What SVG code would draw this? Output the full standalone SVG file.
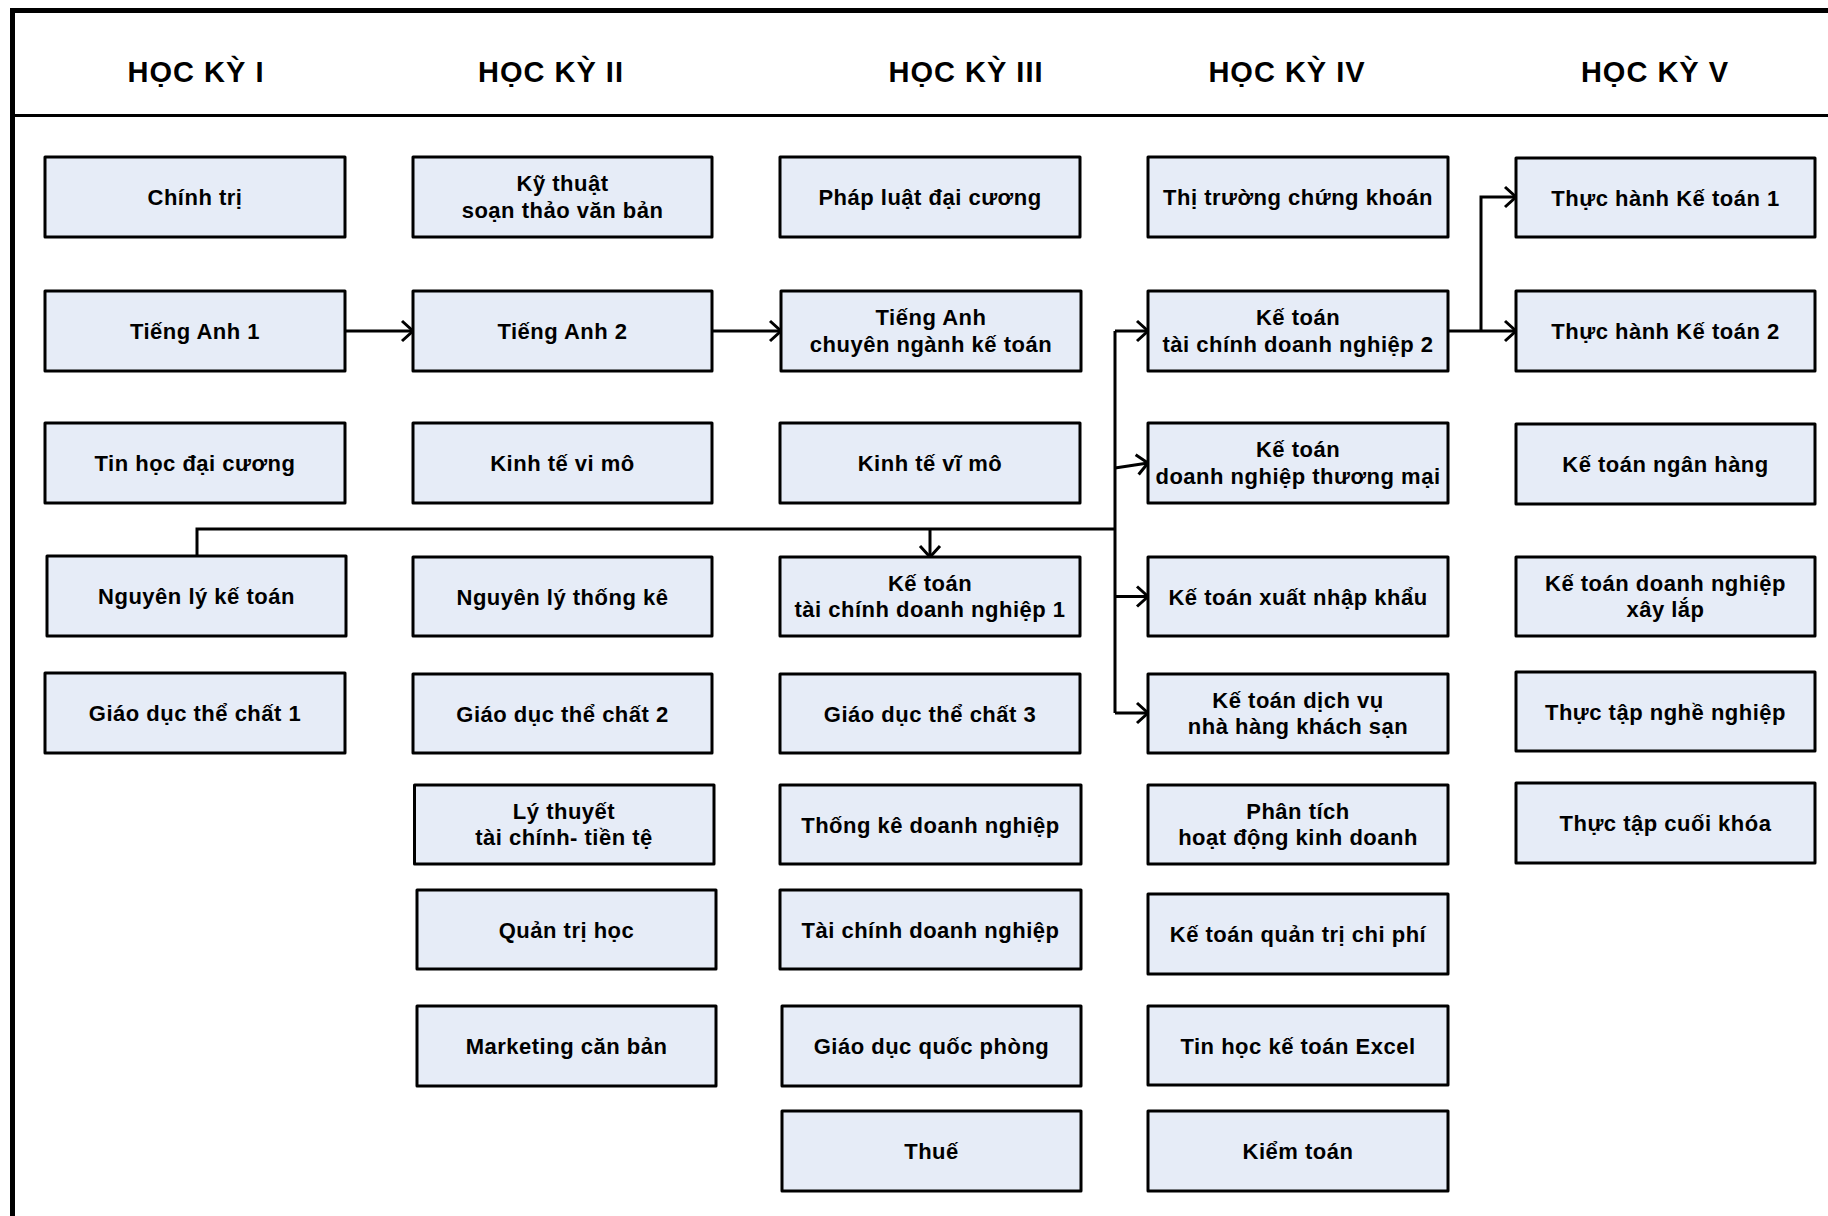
<svg xmlns="http://www.w3.org/2000/svg" width="1828" height="1216" viewBox="0 0 1828 1216">
<defs>
<style>
.frame{fill:none;stroke:#000;stroke-width:5}
.hline{stroke:#000;stroke-width:3}
.h{font-family:"Liberation Sans",Arial,sans-serif;font-weight:bold;font-size:29px;letter-spacing:1px;text-anchor:middle;fill:#000}
.box{fill:#E6ECF7;stroke:#000;stroke-width:3;stroke-linejoin:round}
.t{font-family:"Liberation Sans",Arial,sans-serif;font-weight:bold;font-size:22px;letter-spacing:0.5px;text-anchor:middle;fill:#000}
.c{fill:none;stroke:#000;stroke-width:3}
</style>
<marker id="arr" markerUnits="userSpaceOnUse" markerWidth="30" markerHeight="30" viewBox="-15 -15 30 30" refX="0" refY="0" orient="auto" overflow="visible">
<path d="M-11,-10 L0,0 L-11,10" fill="none" stroke="#000" stroke-width="3"/>
</marker>
</defs>
<rect x="0" y="0" width="1828" height="1216" fill="#fff"/>
<g id="frame">
<rect class="frame" x="12.5" y="10.5" width="1900" height="1300"/>
<line class="hline" x1="12" y1="115.5" x2="1828" y2="115.5"/>
</g>
<g id="headers">
<text class="h" x="196" y="82">HỌC KỲ I</text>
<text class="h" x="551" y="82">HỌC KỲ II</text>
<text class="h" x="966" y="82">HỌC KỲ III</text>
<text class="h" x="1287" y="82">HỌC KỲ IV</text>
<text class="h" x="1655" y="82">HỌC KỲ V</text>
</g>
<g id="connectors">
<path class="c" d="M345,331 H413" marker-end="url(#arr)"/>
<path class="c" d="M712,331 H781" marker-end="url(#arr)"/>
<path class="c" d="M197,556 V529 H1115"/>
<path class="c" d="M930,529 V557" marker-end="url(#arr)"/>
<path class="c" d="M1115,331 V713"/>
<path class="c" d="M1115,331 H1148" marker-end="url(#arr)"/>
<path class="c" d="M1115,468 L1148,463" marker-end="url(#arr)"/>
<path class="c" d="M1115,596.5 H1148" marker-end="url(#arr)"/>
<path class="c" d="M1115,713 H1148" marker-end="url(#arr)"/>
<path class="c" d="M1448,331 H1516" marker-end="url(#arr)"/>
<path class="c" d="M1481,331 V197 H1516" marker-end="url(#arr)"/>
</g>
<!-- Column 1 -->
<g id="chinh-tri"><rect class="box" x="45" y="157" width="300" height="80"/><text class="t" x="195" y="205">Chính trị</text></g>
<g id="tieng-anh-1"><rect class="box" x="45" y="291" width="300" height="80"/><text class="t" x="195" y="339">Tiếng Anh 1</text></g>
<g id="tin-hoc-dai-cuong"><rect class="box" x="45" y="423" width="300" height="80"/><text class="t" x="195" y="471">Tin học đại cương</text></g>
<g id="nguyen-ly-ke-toan"><rect class="box" x="47" y="556" width="299" height="80"/><text class="t" x="196.5" y="604">Nguyên lý kế toán</text></g>
<g id="gdtc-1"><rect class="box" x="45" y="673" width="300" height="80"/><text class="t" x="195" y="721">Giáo dục thể chất 1</text></g>
<!-- Column 2 -->
<g id="ky-thuat-soan-thao"><rect class="box" x="413" y="157" width="299" height="80"/><text class="t" x="562.5" y="191">Kỹ thuật</text><text class="t" x="562.5" y="217.5">soạn thảo văn bản</text></g>
<g id="tieng-anh-2"><rect class="box" x="413" y="291" width="299" height="80"/><text class="t" x="562.5" y="339">Tiếng Anh 2</text></g>
<g id="kinh-te-vi-mo"><rect class="box" x="413" y="423" width="299" height="80"/><text class="t" x="562.5" y="471">Kinh tế vi mô</text></g>
<g id="nguyen-ly-thong-ke"><rect class="box" x="413" y="557" width="299" height="79"/><text class="t" x="562.5" y="604.5">Nguyên lý thống kê</text></g>
<g id="gdtc-2"><rect class="box" x="413" y="674" width="299" height="79"/><text class="t" x="562.5" y="721.5">Giáo dục thể chất 2</text></g>
<g id="ly-thuyet-tctt"><rect class="box" x="414.5" y="785" width="299.5" height="79"/><text class="t" x="564" y="818.5">Lý thuyết</text><text class="t" x="564" y="845">tài chính- tiền tệ</text></g>
<g id="quan-tri-hoc"><rect class="box" x="417" y="890" width="299" height="79"/><text class="t" x="566.5" y="937.5">Quản trị học</text></g>
<g id="marketing-can-ban"><rect class="box" x="417" y="1006" width="299" height="80"/><text class="t" x="566.5" y="1054">Marketing căn bản</text></g>
<!-- Column 3 -->
<g id="phap-luat-dai-cuong"><rect class="box" x="780" y="157" width="300" height="80"/><text class="t" x="930" y="205">Pháp luật đại cương</text></g>
<g id="tieng-anh-chuyen-nganh"><rect class="box" x="781" y="291" width="300" height="80"/><text class="t" x="931" y="325">Tiếng Anh</text><text class="t" x="931" y="351.5">chuyên ngành kế toán</text></g>
<g id="kinh-te-vi-mo-3"><rect class="box" x="780" y="423" width="300" height="80"/><text class="t" x="930" y="471">Kinh tế vĩ mô</text></g>
<g id="kttcdn-1"><rect class="box" x="780" y="557" width="300" height="79"/><text class="t" x="930" y="590.5">Kế toán</text><text class="t" x="930" y="617">tài chính doanh nghiệp 1</text></g>
<g id="gdtc-3"><rect class="box" x="780" y="674" width="300" height="79"/><text class="t" x="930" y="721.5">Giáo dục thể chất 3</text></g>
<g id="thong-ke-dn"><rect class="box" x="780" y="785" width="301" height="79"/><text class="t" x="930.5" y="832.5">Thống kê doanh nghiệp</text></g>
<g id="tai-chinh-dn"><rect class="box" x="780" y="890" width="301" height="79"/><text class="t" x="930.5" y="937.5">Tài chính doanh nghiệp</text></g>
<g id="gd-quoc-phong"><rect class="box" x="782" y="1006" width="299" height="80"/><text class="t" x="931.5" y="1054">Giáo dục quốc phòng</text></g>
<g id="thue"><rect class="box" x="782" y="1111" width="299" height="80"/><text class="t" x="931.5" y="1159">Thuế</text></g>
<!-- Column 4 -->
<g id="thi-truong-ck"><rect class="box" x="1148" y="157" width="300" height="80"/><text class="t" x="1298" y="205">Thị trường chứng khoán</text></g>
<g id="kttcdn-2"><rect class="box" x="1148" y="291" width="300" height="80"/><text class="t" x="1298" y="325">Kế toán</text><text class="t" x="1298" y="351.5">tài chính doanh nghiệp 2</text></g>
<g id="ktdn-thuong-mai"><rect class="box" x="1148" y="423" width="300" height="80"/><text class="t" x="1298" y="457">Kế toán</text><text class="t" x="1298" y="483.5">doanh nghiệp thương mại</text></g>
<g id="kt-xuat-nhap-khau"><rect class="box" x="1148" y="557" width="300" height="79"/><text class="t" x="1298" y="604.5">Kế toán xuất nhập khẩu</text></g>
<g id="kt-dich-vu"><rect class="box" x="1148" y="674" width="300" height="79"/><text class="t" x="1298" y="707.5">Kế toán dịch vụ</text><text class="t" x="1298" y="734">nhà hàng khách sạn</text></g>
<g id="phan-tich-hdkd"><rect class="box" x="1148" y="785" width="300" height="79"/><text class="t" x="1298" y="818.5">Phân tích</text><text class="t" x="1298" y="845">hoạt động kinh doanh</text></g>
<g id="kt-quan-tri-chi-phi"><rect class="box" x="1148" y="894" width="300" height="80"/><text class="t" x="1298" y="942">Kế toán quản trị chi phí</text></g>
<g id="tin-hoc-kt-excel"><rect class="box" x="1148" y="1006" width="300" height="79"/><text class="t" x="1298" y="1053.5">Tin học kế toán Excel</text></g>
<g id="kiem-toan"><rect class="box" x="1148" y="1111" width="300" height="80"/><text class="t" x="1298" y="1159">Kiểm toán</text></g>
<!-- Column 5 -->
<g id="thuc-hanh-kt-1"><rect class="box" x="1516" y="158" width="299" height="79"/><text class="t" x="1665.5" y="205.5">Thực hành Kế toán 1</text></g>
<g id="thuc-hanh-kt-2"><rect class="box" x="1516" y="291" width="299" height="80"/><text class="t" x="1665.5" y="339">Thực hành Kế toán 2</text></g>
<g id="kt-ngan-hang"><rect class="box" x="1516" y="424" width="299" height="80"/><text class="t" x="1665.5" y="472">Kế toán ngân hàng</text></g>
<g id="ktdn-xay-lap"><rect class="box" x="1516" y="557" width="299" height="79"/><text class="t" x="1665.5" y="590.5">Kế toán doanh nghiệp</text><text class="t" x="1665.5" y="617">xây lắp</text></g>
<g id="thuc-tap-nghe-nghiep"><rect class="box" x="1516" y="672" width="299" height="79"/><text class="t" x="1665.5" y="719.5">Thực tập nghề nghiệp</text></g>
<g id="thuc-tap-cuoi-khoa"><rect class="box" x="1516" y="783" width="299" height="80"/><text class="t" x="1665.5" y="831">Thực tập cuối khóa</text></g>
</svg>
